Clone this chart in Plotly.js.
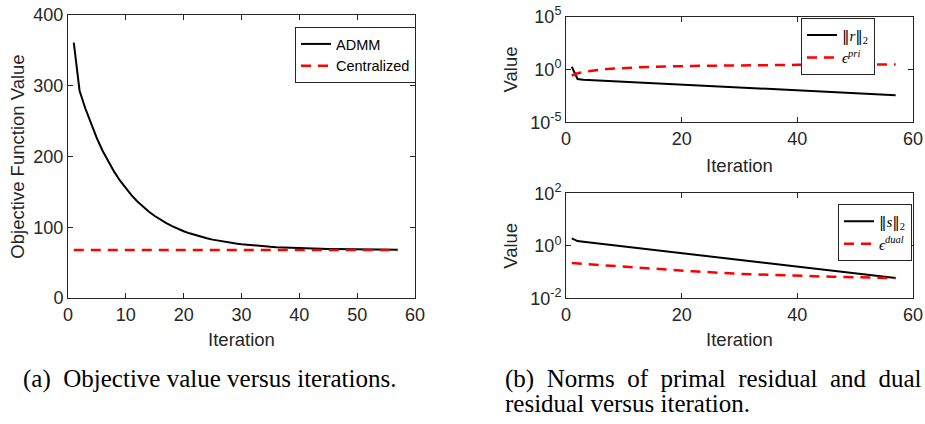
<!DOCTYPE html>
<html>
<head>
<meta charset="utf-8">
<script src="https://cdn.plot.ly/plotly-3.0.1.min.js"></script>
<style>
  html, body { margin: 0; padding: 0; background: #fff; }
  #chart { width: 925px; height: 424px; }
</style>
</head>
<body>
<div id="chart"></div>
<script>
// ---- Data ----
const ITER = [1,2,3,4,5,6,7,8,9,10,11,12,13,14,15,16,17,18,19,20,21,22,23,24,25,26,27,28,29,30,
  31,32,33,34,35,36,37,38,39,40,41,42,43,44,45,46,47,48,49,50,51,52,53,54,55,56,57];

// (a) objective value
const ADMM = [361,293,267.8,245.4,225.5,207.8,192.1,178.2,165.8,154.8,145.1,136.4,128.7,121.9,115.9,
  110.5,105.7,101.5,97.7,94.4,91.4,88.8,86.5,84.4,82.5,80.9,79.5,78.2,77.0,76.0,75.1,74.3,73.6,73.0,
  72.4,71.9,71.5,71.1,70.7,70.4,70.2,69.9,69.7,69.5,69.3,69.2,69.1,68.9,68.8,68.7,68.6,68.6,68.5,68.5,
  68.4,68.4,68.3];
const CENTRAL_X = [1, 57];
const CENTRAL_Y = [68, 68];

// (b) primal residual and tolerance
const R_NORM = [1.82,0.126,0.105,0.0984,0.0925,0.0869,0.0817,0.0767,0.0722,0.0679,0.0638,0.0600,0.0564,
  0.0530,0.0498,0.0468,0.0440,0.0413,0.0389,0.0366,0.0344,0.0323,0.0303,0.0285,0.0268,0.0252,0.0237,
  0.0222,0.0209,0.0197,0.0185,0.0174,0.0163,0.0153,0.0144,0.0136,0.0127,0.0120,0.0113,0.0106,0.00995,
  0.00935,0.00879,0.00826,0.00776,0.00730,0.00686,0.00645,0.00607,0.00570,0.00536,0.00504,0.00473,
  0.00445,0.00418,0.00393,0.00369];
const EPS_PRI = [0.269,0.437,0.575,0.724,0.851,0.977,1.096,1.202,1.318,1.413,1.496,1.585,1.660,1.738,
  1.820,1.884,1.950,1.995,2.042,2.089,2.138,2.188,2.239,2.291,2.344,2.377,2.410,2.443,2.477,2.512,2.535,
  2.559,2.582,2.606,2.630,2.655,2.679,2.704,2.729,2.754,2.767,2.780,2.793,2.805,2.818,2.831,2.844,2.858,
  2.871,2.884,2.897,2.904,2.917,2.924,2.931,2.938,2.951];

// (b) dual residual and tolerance
const S_NORM = [1.905,1.514,1.427,1.345,1.268,1.196,1.127,1.063,1.002,0.944,0.890,0.839,0.791,0.746,
  0.703,0.663,0.625,0.589,0.556,0.524,0.494,0.466,0.439,0.414,0.390,0.368,0.347,0.327,0.308,0.290,0.274,
  0.258,0.243,0.229,0.216,0.204,0.192,0.181,0.171,0.161,0.152,0.143,0.135,0.127,0.120,0.113,0.107,
  0.1006,0.0948,0.0894,0.0843,0.0794,0.0749,0.0706,0.0666,0.0627,0.0592];
const EPS_DUAL = [0.219,0.211,0.204,0.197,0.191,0.184,0.178,0.172,0.166,0.160,0.155,0.150,0.145,0.140,
  0.135,0.130,0.126,0.122,0.117,0.114,0.110,0.107,0.103,0.100,0.0973,0.0944,0.0918,0.0893,0.0871,0.0851,
  0.0834,0.0817,0.0802,0.0787,0.0773,0.0760,0.0748,0.0736,0.0724,0.0714,0.0705,0.0695,0.0687,0.0679,
  0.0671,0.0664,0.0656,0.0649,0.0641,0.0634,0.0627,0.0619,0.0612,0.0607,0.0601,0.0596,0.0590];

const X_TICKS_A = [0,10,20,30,40,50,60];
const Y_TICKS_A = [0,100,200,300,400];
const X_TICKS_B = [0,20,40,60];
const Y_TICKS_TOP = [1e-5, 1, 1e5];
const Y_TICKTEXT_TOP = ['10<sup>-5</sup>','10<sup>0</sup>','10<sup>5</sup>'];
const Y_TICKS_BOT = [1e-2, 1, 1e2];
const Y_TICKTEXT_BOT = ['10<sup>-2</sup>','10<sup>0</sup>','10<sup>2</sup>'];

// ---- Styling ----
const W = 925, H = 424;
const AX_COL = '#262626';
const SANS = 'Liberation Sans, Arial, sans-serif';
const SERIF = 'Liberation Serif, DejaVu Serif, Times New Roman, serif';
const DASH = '10px,7px';
const NORM = '<span style="font-family:\'DejaVu Serif\';font-weight:normal">‖</span>';

function px2x(p) { return p / W; }
function px2y(p) { return 1 - p / H; }

function axisBase(extra) {
  return Object.assign({
    showgrid: false, zeroline: false,
    showline: true, linecolor: AX_COL, linewidth: 1, mirror: 'ticks',
    ticks: 'inside', ticklen: 5, tickwidth: 1, tickcolor: AX_COL,
    tickfont: { family: SANS, size: 18, color: AX_COL },
    fixedrange: true
  }, extra);
}

const traces = [
  { x: ITER, y: ADMM, type: 'scatter', mode: 'lines', name: 'ADMM',
    line: { color: '#000000', width: 2 }, xaxis: 'x', yaxis: 'y', legend: 'legend' },
  { x: CENTRAL_X, y: CENTRAL_Y, type: 'scatter', mode: 'lines', name: 'Centralized',
    line: { color: '#ff0000', width: 2.5, dash: DASH }, xaxis: 'x', yaxis: 'y', legend: 'legend' },
  { x: ITER, y: R_NORM, type: 'scatter', mode: 'lines', name: NORM + '<i>r</i>' + NORM + '<sub>2</sub>',
    line: { color: '#000000', width: 2 }, xaxis: 'x2', yaxis: 'y2', legend: 'legend2' },
  { x: ITER, y: EPS_PRI, type: 'scatter', mode: 'lines', name: '<i>ϵ</i><sup><i>pri</i></sup>',
    line: { color: '#ff0000', width: 2.5, dash: DASH }, xaxis: 'x2', yaxis: 'y2', legend: 'legend2' },
  { x: ITER, y: S_NORM, type: 'scatter', mode: 'lines', name: NORM + '<i>s</i>' + NORM + '<sub>2</sub>',
    line: { color: '#000000', width: 2 }, xaxis: 'x3', yaxis: 'y3', legend: 'legend3' },
  { x: ITER, y: EPS_DUAL, type: 'scatter', mode: 'lines', name: '<i>ϵ</i><sup><i>dual</i></sup>',
    line: { color: '#ff0000', width: 2.5, dash: DASH }, xaxis: 'x3', yaxis: 'y3', legend: 'legend3' }
];

const titleFont = { family: SANS, size: 18.5, color: AX_COL };

const legendBase = {
  xanchor: 'left', yanchor: 'top',
  bgcolor: '#ffffff', bordercolor: AX_COL, borderwidth: 1,
  tracegroupgap: 0, itemclick: false, itemdoubleclick: false
};

const layout = {
  width: W, height: H,
  margin: { l: 0, r: 0, t: 0, b: 0, pad: 0 },
  paper_bgcolor: '#ffffff', plot_bgcolor: '#ffffff',
  showlegend: true,
  xaxis: axisBase({ domain: [px2x(68), px2x(415)], anchor: 'y', range: [0, 60],
    tickmode: 'array', tickvals: X_TICKS_A,
    title: { text: 'Iteration', font: titleFont, standoff: 9 } }),
  yaxis: axisBase({ domain: [px2y(298), px2y(15)], anchor: 'x', range: [0, 400],
    tickmode: 'array', tickvals: Y_TICKS_A,
    title: { text: 'Objective Function Value', font: titleFont, standoff: 3 } }),
  xaxis2: axisBase({ domain: [px2x(566), px2x(913)], anchor: 'y2', range: [0, 60],
    tickmode: 'array', tickvals: X_TICKS_B,
    title: { text: 'Iteration', font: titleFont, standoff: 11 } }),
  yaxis2: axisBase({ domain: [px2y(122.3), px2y(16.7)], anchor: 'x2', type: 'log', range: [-5, 5],
    tickmode: 'array', tickvals: Y_TICKS_TOP, ticktext: Y_TICKTEXT_TOP,
    title: { text: 'Value', font: titleFont, standoff: 7 } }),
  xaxis3: axisBase({ domain: [px2x(566), px2x(913)], anchor: 'y3', range: [0, 60],
    tickmode: 'array', tickvals: X_TICKS_B,
    title: { text: 'Iteration', font: titleFont, standoff: 9 } }),
  yaxis3: axisBase({ domain: [px2y(298.3), px2y(193.3)], anchor: 'x3', type: 'log', range: [-2, 2],
    tickmode: 'array', tickvals: Y_TICKS_BOT, ticktext: Y_TICKTEXT_BOT,
    title: { text: 'Value', font: titleFont, standoff: 7 } }),
  legend: Object.assign({}, legendBase, { x: px2x(295), y: px2y(27),
    font: { family: SANS, size: 14.5, color: '#000' } }),
  legend2: Object.assign({}, legendBase, { x: px2x(801), y: px2y(17.7),
    font: { family: SERIF, size: 15, color: '#000' } }),
  legend3: Object.assign({}, legendBase, { x: px2x(838), y: px2y(204),
    font: { family: SERIF, size: 15, color: '#000' } }),
  annotations: [
    { xref: 'paper', yref: 'paper', x: px2x(21), y: px2y(379), xanchor: 'left', yanchor: 'middle',
      showarrow: false, text: '(a)\u00A0\u00A0Objective value versus iterations.',
      font: { family: SERIF, size: 25, color: '#000' } },
    { xref: 'paper', yref: 'paper', x: px2x(503), y: px2y(379), xanchor: 'left', yanchor: 'middle',
      showarrow: false, text: '(b)\u00A0\u00A0Norms\u00A0\u00A0of\u00A0\u00A0primal\u00A0\u00A0residual\u00A0\u00A0and\u00A0\u00A0dual',
      font: { family: SERIF, size: 25, color: '#000' } },
    { xref: 'paper', yref: 'paper', x: px2x(503), y: px2y(403), xanchor: 'left', yanchor: 'middle',
      showarrow: false, text: 'residual versus iteration.',
      font: { family: SERIF, size: 25, color: '#000' } }
  ]
};

Plotly.newPlot('chart', traces, layout, { staticPlot: true, displayModeBar: false });
</script>
</body>
</html>
